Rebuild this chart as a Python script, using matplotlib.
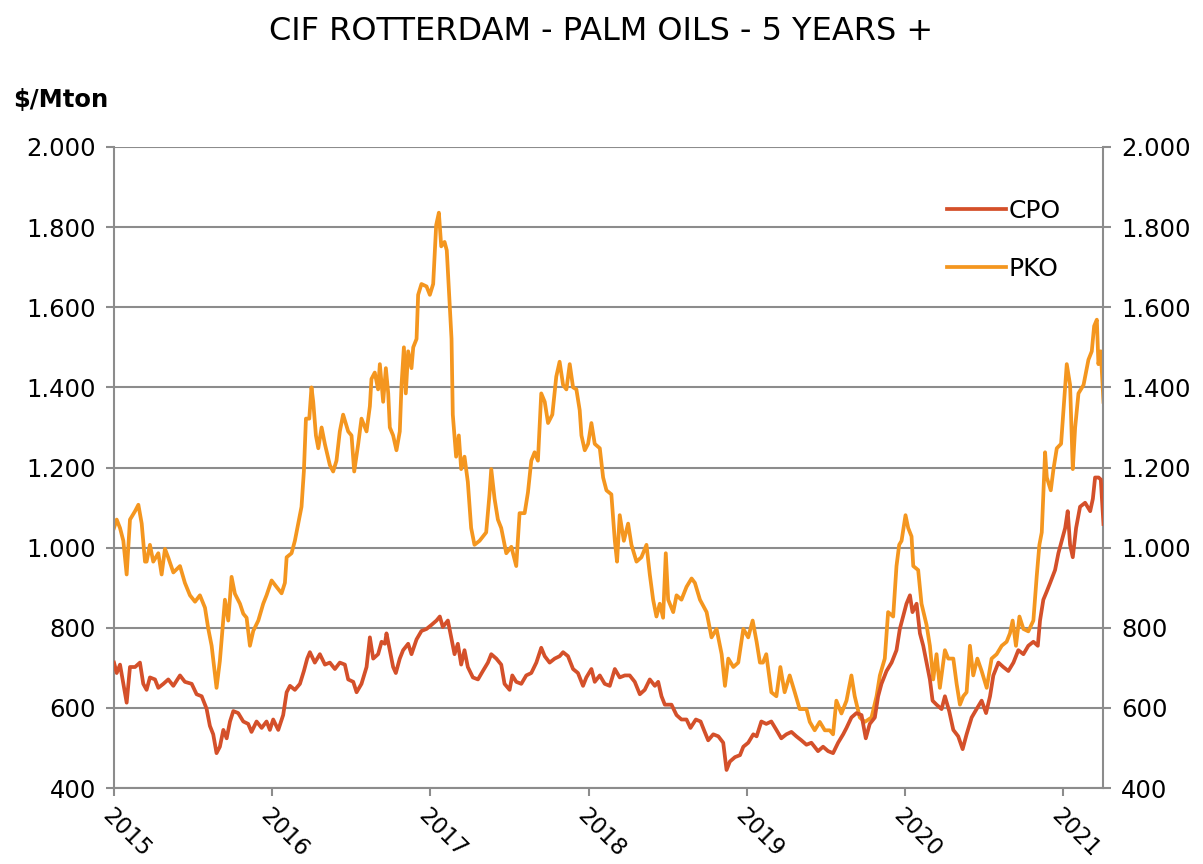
import matplotlib
matplotlib.use("Agg")
import matplotlib.pyplot as plt
from matplotlib.ticker import FuncFormatter, FixedLocator
import matplotlib.transforms as mtransforms

# ---------------- data (decimal years, $/Mton) ----------------
pko_t = [2015.000, 2015.017, 2015.038, 2015.059, 2015.080, 2015.101, 2015.133, 2015.154, 2015.175, 2015.196,
         2015.206, 2015.227, 2015.248, 2015.280, 2015.301, 2015.322, 2015.343, 2015.375, 2015.417, 2015.448,
         2015.480, 2015.512, 2015.543, 2015.575, 2015.596, 2015.617, 2015.648, 2015.669, 2015.701, 2015.722,
         2015.743, 2015.764, 2015.796, 2015.817, 2015.838, 2015.859, 2015.880, 2015.912, 2015.943, 2015.964,
         2015.996, 2016.027, 2016.059, 2016.080, 2016.091, 2016.122, 2016.143, 2016.164, 2016.185, 2016.200,
         2016.213, 2016.234, 2016.248, 2016.259, 2016.276, 2016.291, 2016.312, 2016.333, 2016.364, 2016.385,
         2016.406, 2016.427, 2016.448, 2016.480, 2016.501, 2016.518, 2016.543, 2016.564, 2016.596, 2016.617,
         2016.627, 2016.648, 2016.669, 2016.680, 2016.701, 2016.718, 2016.733, 2016.743, 2016.764, 2016.785,
         2016.806, 2016.817, 2016.832, 2016.844, 2016.859, 2016.880, 2016.891, 2016.912, 2016.922, 2016.943,
         2016.975, 2016.996, 2017.017, 2017.036, 2017.053, 2017.068, 2017.089, 2017.103, 2017.120, 2017.133,
         2017.141, 2017.162, 2017.179, 2017.194, 2017.215, 2017.236, 2017.257, 2017.278, 2017.310, 2017.352,
         2017.373, 2017.384, 2017.405, 2017.426, 2017.447, 2017.479, 2017.511, 2017.542, 2017.563, 2017.595,
         2017.616, 2017.637, 2017.658, 2017.679, 2017.700, 2017.722, 2017.743, 2017.770, 2017.795, 2017.816,
         2017.838, 2017.859, 2017.880, 2017.901, 2017.922, 2017.943, 2017.954, 2017.975, 2017.996, 2018.017,
         2018.038, 2018.070, 2018.091, 2018.112, 2018.143, 2018.165, 2018.179, 2018.196, 2018.222, 2018.249,
         2018.270, 2018.302, 2018.333, 2018.365, 2018.386, 2018.407, 2018.428, 2018.449, 2018.470, 2018.487,
         2018.502, 2018.534, 2018.555, 2018.586, 2018.618, 2018.650, 2018.671, 2018.703, 2018.745, 2018.776,
         2018.808, 2018.840, 2018.861, 2018.882, 2018.914, 2018.945, 2018.977, 2019.008, 2019.036, 2019.061,
         2019.082, 2019.101, 2019.122, 2019.154, 2019.186, 2019.211, 2019.238, 2019.270, 2019.302, 2019.333,
         2019.376, 2019.397, 2019.428, 2019.460, 2019.492, 2019.523, 2019.544, 2019.565, 2019.597, 2019.629,
         2019.660, 2019.681, 2019.713, 2019.745, 2019.787, 2019.819, 2019.840, 2019.871, 2019.892, 2019.924,
         2019.945, 2019.962, 2019.977, 2020.002, 2020.019, 2020.040, 2020.051, 2020.082, 2020.103, 2020.135,
         2020.156, 2020.177, 2020.198, 2020.219, 2020.251, 2020.272, 2020.304, 2020.325, 2020.346, 2020.367,
         2020.388, 2020.409, 2020.430, 2020.456, 2020.483, 2020.515, 2020.546, 2020.578, 2020.610, 2020.641,
         2020.662, 2020.679, 2020.700, 2020.722, 2020.747, 2020.778, 2020.810, 2020.831, 2020.848, 2020.863,
         2020.884, 2020.895, 2020.920, 2020.937, 2020.958, 2020.985, 2021.000, 2021.021, 2021.042, 2021.059,
         2021.074, 2021.095, 2021.127, 2021.158, 2021.179, 2021.194, 2021.211, 2021.221, 2021.236, 2021.253]
pko_v = [1049, 1070, 1049, 1017, 933, 1070, 1091, 1107, 1060, 965,
         965, 1007, 965, 986, 933, 997, 975, 938, 954, 912,
         881, 865, 881, 850, 797, 755, 650, 717, 870, 818,
         927, 885, 860, 835, 825, 755, 792, 818, 860, 881,
         918, 902, 886, 912, 976, 986, 1017, 1060, 1102, 1191,
         1322, 1322, 1400, 1364, 1280, 1248, 1300, 1258, 1206, 1190,
         1217, 1290, 1332, 1290, 1280, 1190, 1258, 1322, 1290, 1353,
         1421, 1437, 1395, 1458, 1364, 1448, 1385, 1300, 1280, 1243,
         1290, 1406, 1500, 1385, 1490, 1448, 1500, 1521, 1631, 1658,
         1652, 1631, 1658, 1805, 1836, 1752, 1763, 1742, 1616, 1521,
         1332, 1227, 1280, 1196, 1227, 1164, 1049, 1007, 1017, 1038,
         1133, 1196, 1122, 1070, 1049, 986, 1002, 954, 1086, 1086,
         1138, 1217, 1238, 1217, 1385, 1364, 1311, 1332, 1427, 1464,
         1406, 1395, 1458, 1400, 1395, 1343, 1280, 1243, 1259, 1311,
         1259, 1248, 1175, 1143, 1133, 1017, 965, 1081, 1017, 1060,
         1007, 965, 976, 1007, 933, 870, 828, 860, 825, 986,
         870, 839, 881, 870, 902, 923, 912, 870, 839, 776,
         797, 734, 655, 723, 702, 713, 797, 776, 818, 765,
         713, 713, 734, 639, 629, 702, 639, 681, 639, 597,
         597, 565, 544, 565, 544, 544, 534, 618, 586, 618,
         681, 629, 576, 565, 576, 629, 681, 723, 839, 828,
         954, 1007, 1017, 1081, 1049, 1028, 954, 944, 860, 807,
         755, 671, 734, 650, 744, 723, 723, 660, 608, 629,
         639, 755, 681, 723, 692, 650, 723, 734, 755, 765,
         786, 818, 755, 828, 797, 791, 818, 928, 1007, 1038,
         1238, 1175, 1143, 1196, 1248, 1259, 1343, 1458, 1406, 1196,
         1300, 1385, 1406, 1469, 1490, 1553, 1569, 1458, 1490, 1364]

cpo_t = [2015.000, 2015.017, 2015.038, 2015.059, 2015.080, 2015.101, 2015.133, 2015.164, 2015.185, 2015.206,
         2015.227, 2015.259, 2015.280, 2015.312, 2015.343, 2015.375, 2015.417, 2015.448, 2015.491, 2015.522,
         2015.554, 2015.585, 2015.606, 2015.627, 2015.648, 2015.669, 2015.691, 2015.712, 2015.733, 2015.754,
         2015.785, 2015.817, 2015.848, 2015.869, 2015.901, 2015.933, 2015.964, 2015.985, 2016.006, 2016.038,
         2016.069, 2016.091, 2016.112, 2016.143, 2016.175, 2016.200, 2016.221, 2016.238, 2016.269, 2016.301,
         2016.333, 2016.364, 2016.396, 2016.427, 2016.459, 2016.480, 2016.512, 2016.533, 2016.564, 2016.596,
         2016.617, 2016.638, 2016.669, 2016.691, 2016.712, 2016.722, 2016.743, 2016.764, 2016.781, 2016.806,
         2016.827, 2016.859, 2016.880, 2016.912, 2016.943, 2016.975, 2017.006, 2017.038, 2017.059, 2017.078,
         2017.110, 2017.131, 2017.152, 2017.173, 2017.194, 2017.215, 2017.236, 2017.268, 2017.300, 2017.331,
         2017.363, 2017.384, 2017.416, 2017.447, 2017.468, 2017.500, 2017.517, 2017.542, 2017.574, 2017.605,
         2017.637, 2017.669, 2017.700, 2017.722, 2017.753, 2017.785, 2017.816, 2017.838, 2017.869, 2017.901,
         2017.932, 2017.964, 2017.985, 2018.017, 2018.038, 2018.070, 2018.101, 2018.133, 2018.165, 2018.196,
         2018.228, 2018.259, 2018.291, 2018.323, 2018.354, 2018.386, 2018.418, 2018.439, 2018.460, 2018.481,
         2018.523, 2018.555, 2018.586, 2018.618, 2018.643, 2018.677, 2018.707, 2018.728, 2018.755, 2018.787,
         2018.819, 2018.850, 2018.871, 2018.892, 2018.924, 2018.956, 2018.977, 2019.008, 2019.040, 2019.061,
         2019.091, 2019.122, 2019.154, 2019.186, 2019.217, 2019.249, 2019.281, 2019.312, 2019.344, 2019.376,
         2019.407, 2019.449, 2019.481, 2019.513, 2019.544, 2019.576, 2019.608, 2019.629, 2019.660, 2019.692,
         2019.724, 2019.751, 2019.776, 2019.808, 2019.829, 2019.850, 2019.882, 2019.914, 2019.945, 2019.966,
         2019.987, 2020.008, 2020.030, 2020.046, 2020.072, 2020.093, 2020.114, 2020.135, 2020.156, 2020.173,
         2020.198, 2020.230, 2020.251, 2020.278, 2020.304, 2020.335, 2020.363, 2020.388, 2020.420, 2020.451,
         2020.483, 2020.511, 2020.536, 2020.557, 2020.589, 2020.620, 2020.652, 2020.684, 2020.715, 2020.747,
         2020.778, 2020.810, 2020.838, 2020.852, 2020.873, 2020.895, 2020.916, 2020.947, 2020.968, 2020.989,
         2021.011, 2021.027, 2021.042, 2021.059, 2021.080, 2021.105, 2021.137, 2021.169, 2021.186, 2021.200,
         2021.222, 2021.236, 2021.253]
cpo_v = [713, 687, 708, 660, 613, 702, 702, 713, 660, 645,
         676, 671, 650, 660, 671, 655, 681, 665, 660, 634,
         629, 598, 555, 534, 487, 503, 545, 524, 566, 592,
         587, 566, 560, 540, 566, 550, 566, 545, 571, 545,
         582, 639, 655, 645, 660, 692, 723, 739, 713, 734,
         708, 713, 697, 713, 708, 671, 665, 639, 660, 702,
         776, 723, 734, 765, 760, 786, 744, 702, 687, 723,
         744, 760, 734, 771, 792, 797, 807, 818, 828, 802,
         818, 776, 734, 760, 708, 744, 702, 676, 671, 692,
         713, 734, 723, 708, 660, 645, 681, 665, 660, 681,
         687, 713, 750, 729, 713, 723, 729, 739, 729, 697,
         687, 655, 676, 697, 665, 681, 660, 655, 697, 676,
         681, 681, 665, 634, 645, 671, 655, 665, 629, 608,
         608, 582, 571, 571, 550, 571, 566, 545, 519, 534,
         529, 513, 445, 466, 477, 482, 503, 513, 534, 529,
         566, 560, 566, 545, 524, 534, 540, 529, 519, 508,
         513, 492, 503, 492, 487, 513, 534, 550, 576, 587,
         582, 524, 560, 576, 629, 660, 692, 713, 744, 797,
         828, 860, 881, 839, 860, 786, 755, 713, 671, 618,
         608, 597, 629, 592, 545, 529, 497, 534, 576, 597,
         618, 587, 629, 681, 713, 702, 692, 713, 744, 734,
         755, 765, 755, 818, 870, 891, 912, 944, 986, 1017,
         1049, 1091, 1007, 976, 1049, 1102, 1112, 1091, 1122, 1175,
         1175, 1170, 1059]

series_names = ["CPO", "PKO"]
series_colors = ["#D4502A", "#F4961F"]
year_ticks = [2015, 2016, 2017, 2018, 2019, 2020, 2021]
year_labels = ["2015", "2016", "2017", "2018", "2019", "2020", "2021"]
y_ticks = [400, 600, 800, 1000, 1200, 1400, 1600, 1800, 2000]

title = "CIF ROTTERDAM - PALM OILS - 5 YEARS +"
unit_label = "$/Mton"

# ---------------- figure ----------------
plt.rcParams['font.family'] = ['DejaVu Sans']
fig = plt.figure(figsize=(12.03, 8.64), dpi=100)
ax = fig.add_axes([114 / 1203, 1 - 788 / 864, (1103 - 114) / 1203, (788 - 147) / 864])

grid_color = "#8C8C8C"
ax.plot(cpo_t, cpo_v, color=series_colors[0], lw=2.7, label=series_names[0], solid_joinstyle="round", zorder=3)
ax.plot(pko_t, pko_v, color=series_colors[1], lw=2.7, label=series_names[1], solid_joinstyle="round", zorder=2)

ax.set_xlim(2015.0, 2021.25)
ax.set_ylim(400, 2000)
ax.yaxis.set_major_locator(FixedLocator(y_ticks))
ax.yaxis.set_major_formatter(FuncFormatter(lambda v, p: f"{v:,.0f}".replace(",", ".")))
ax.set_xticks(year_ticks)
ax.set_xticklabels(year_labels, rotation=-45, ha="left", va="top", rotation_mode="anchor")

ax.grid(axis="y", color=grid_color, lw=1.5)
ax.set_axisbelow(True)
for side in ["left", "right", "bottom"]:
    ax.spines[side].set_color(grid_color)
    ax.spines[side].set_linewidth(1.5)
ax.spines["top"].set_visible(False)

ax.tick_params(axis="y", which="both", left=True, right=True, labelleft=True, labelright=True,
               direction="out", length=6, width=1.5, color=grid_color, labelsize=17.5, pad=7)
ax.tick_params(axis="x", direction="out", length=6, width=1.5, color=grid_color, labelsize=16.5, pad=6)

offset = mtransforms.ScaledTranslation(0, 0, fig.dpi_scale_trans)
for lab in ax.get_xticklabels():
    lab.set_transform(lab.get_transform() + offset)

ax.legend(loc="upper left", bbox_to_anchor=((947 - 114) / 989, 1 - (199 - 147) / 641),
          frameon=False, fontsize=18, handlelength=2.35, handletextpad=0.12,
          labelspacing=1.35, borderpad=0, borderaxespad=0)

fig.text(0.5, 1 - 32 / 864, title, ha="center", va="center", fontsize=23)
fig.text(13 / 1203, 1 - 100 / 864, unit_label, ha="left", va="center", fontsize=17.5, fontweight="bold")

fig.savefig("out.png", dpi=100)
